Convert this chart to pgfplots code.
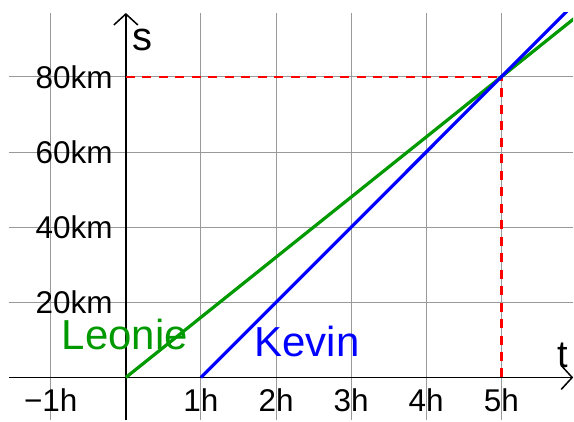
\documentclass[border=0pt]{standalone}
\usepackage{fontspec}
\setmainfont{Liberation Sans}
\usepackage{pgfplots}
\pgfplotsset{compat=1.18}
\usetikzlibrary{arrows.meta}
\definecolor{ggreen}{RGB}{0,153,0}
\definecolor{gblue}{RGB}{0,0,255}
\definecolor{gred}{RGB}{255,0,0}
\begin{document}
\begin{tikzpicture}
\begin{axis}[
  name=main,
  scale only axis, width=565pt, height=408pt,
  xmin=-1.556, xmax=5.957, ymin=-11.43, ymax=97.0,
  axis lines=middle,
  axis line style={line width=1.6pt, -{Straight Barb[length=11pt,width=24pt,line width=1.5pt]}},
  xtick={-1,1,2,3,4,5}, ytick={20,40,60,80},
  xticklabels={−1h,1h,2h,3h,4h,5h},
  yticklabels={20km,40km,60km,80km},
  major tick length=0pt,
  grid=major, grid style={draw=black!40, line width=0.9pt},
  ticklabel style={font=\fontsize{31.5}{31.5}\selectfont, inner sep=0pt},
  xticklabel style={anchor=north, yshift=-11pt},
  yticklabel style={anchor=east, xshift=-13pt},
  /pgf/number format/assume math mode=true,
  clip=true,
]
\addplot[draw=gred, line width=2.6pt, dash pattern=on 9pt off 7.5pt] coordinates {(0,80) (5,80)};
\addplot[draw=gred, line width=2.6pt, dash pattern=on 9pt off 7.5pt] coordinates {(5,0) (5,80)};
\addplot[draw=ggreen, line width=3.2pt] coordinates {(0,0) (5,80) (6,96)};
\addplot[draw=gblue, line width=3.2pt] coordinates {(1,0) (5,80) (6,100)};
\node[anchor=base, text=ggreen, font=\fontsize{42}{42}\selectfont, inner sep=0pt] at (axis cs:-0.013,7.44) {Leonie};
\node[anchor=base, text=gblue, font=\fontsize{42}{42}\selectfont, inner sep=0pt] at (axis cs:2.414,5.58) {Kevin};
\node[anchor=base west, font=\fontsize{40}{40}\selectfont, inner sep=0pt] at (axis cs:0.08,86.9) {s};
\node[anchor=base west, font=\fontsize{38}{38}\selectfont, inner sep=0pt] at (axis cs:5.745,2.66) {t};
\end{axis}
\path ([xshift=-9pt]main.south west) rectangle ([yshift=13pt]main.north east);
\end{tikzpicture}
\end{document}
